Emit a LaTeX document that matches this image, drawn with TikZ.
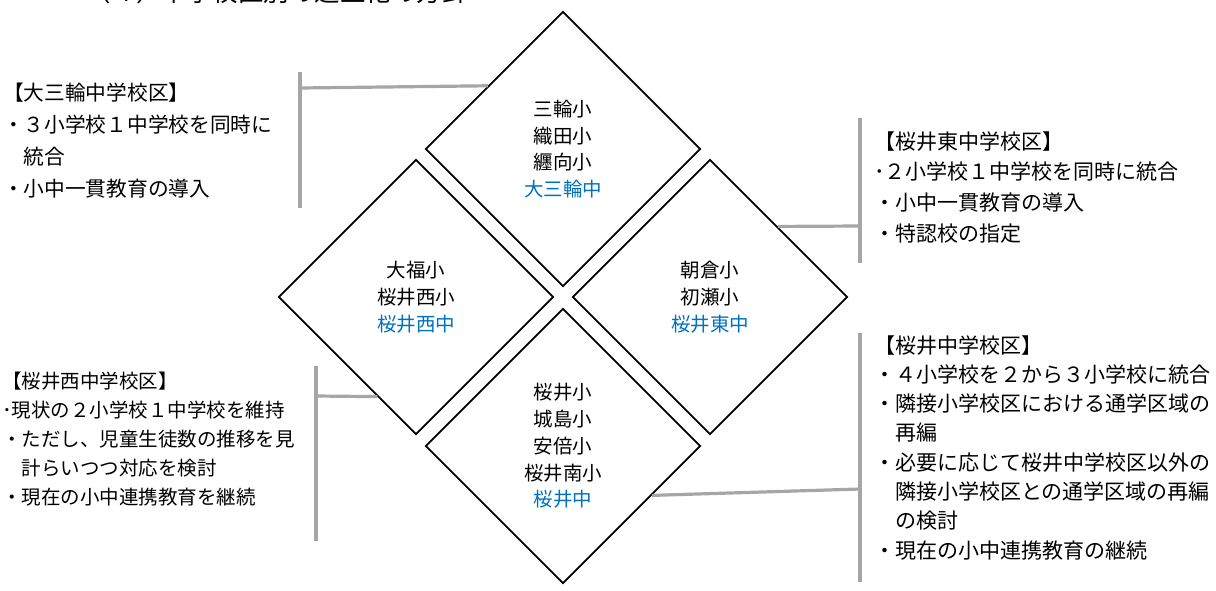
\documentclass[tikz,border=0pt]{standalone}
\usepackage{fontspec}
\setmainfont{Noto Sans CJK JP}
\usetikzlibrary{shapes.geometric,calc}
\definecolor{jblue}{RGB}{0,112,192}
\definecolor{bargray}{RGB}{166,166,166}
\newcommand{\mylines}[2]{\vtop{\baselineskip=#1pt\lineskiplimit=-100pt\lineskip=0pt #2}}
\begin{document}
\begin{tikzpicture}[x=1pt,y=-1pt,
  dia/.style={shape=diamond, aspect=1, draw=black, line width=1.7pt,
    minimum width=275pt, minimum height=275pt, inner sep=0pt, align=center,
    font=\fontsize{19.5}{26.8}\selectfont},
  blk/.style={anchor=base west, inner sep=0pt},
  bar/.style={draw=bargray, line width=3.2pt}]
\useasboundingbox (0,0) rectangle (1216,590);
\begin{scope}
\clip (0,0) rectangle (1216,590);
\node[anchor=base west, inner sep=0pt, font=\fontsize{25.5}{25.5}\selectfont] (title) at (85,1) {（４）中学校区別の適正化の方針};
\end{scope}
% diamonds
\node[dia] (omiwa) at (563,149) {三輪小\\織田小\\纒向小\\\textcolor{jblue}{大三輪中}};
\node[dia] (nishi) at (416,297) {大福小\\桜井西小\\\textcolor{jblue}{桜井西中}};
\node[dia] (higashi) at (710,297) {朝倉小\\初瀬小\\\textcolor{jblue}{桜井東中}};
\node[dia] (sakurai) at (563,446) {桜井小\\城島小\\安倍小\\桜井南小\\\textcolor{jblue}{桜井中}};
% text blocks
\node[blk, font=\fontsize{20.7}{32}\selectfont] (tOmiwa) at (3,100)
  {\mylines{32}{\hbox{【大三輪中学校区】}\hbox{・３小学校１中学校を同時に}\hbox{　統合}\hbox{・小中一貫教育の導入}}};
\node[blk, font=\fontsize{21}{30.7}\selectfont] (tHigashi) at (874,149)
  {\mylines{30.7}{\hbox{【桜井東中学校区】}\hbox{･２小学校１中学校を同時に統合}\hbox{・小中一貫教育の導入}\hbox{・特認校の指定}}};
\node[blk, font=\fontsize{19.5}{29}\selectfont] (tNishi) at (2,388.4)
  {\mylines{29}{\hbox{【桜井西中学校区】}\hbox{･現状の２小学校１中学校を維持}\hbox{・ただし、児童生徒数の推移を見}\hbox{　計らいつつ対応を検討}\hbox{・現在の小中連携教育を継続}}};
\node[blk, font=\fontsize{21}{29.3}\selectfont] (tSakurai) at (874,353)
  {\mylines{29.3}{\hbox{【桜井中学校区】}\hbox{・４小学校を２から３小学校に統合}\hbox{・隣接小学校区における通学区域の}\hbox{　再編}\hbox{・必要に応じて桜井中学校区以外の}\hbox{　隣接小学校区との通学区域の再編}\hbox{　の検討}\hbox{・現在の小中連携教育の継続}}};
% brackets and connectors
\coordinate (b1t) at (300,72);
\coordinate (b1b) at (300,208);
\coordinate (b1m) at (300,88);
\draw[bar] (b1t) -- (b1b);
\draw[bar] (b1m) -- ($(omiwa.west)!0.457!(omiwa.north)$);
\coordinate (b2t) at (860,118);
\coordinate (b2b) at (860,263);
\coordinate (b2m) at (860,226);
\draw[bar] (b2t) -- (b2b);
\draw[bar] ($(higashi.north)!0.49!(higashi.east)$) -- (b2m);
\coordinate (b3t) at (316,366);
\coordinate (b3b) at (316,541);
\coordinate (b3m) at (316,396);
\draw[bar] (b3t) -- (b3b);
\draw[bar] (b3m) -- ($(nishi.west)!0.72!(nishi.south)$);
\coordinate (b4t) at (860,333);
\coordinate (b4b) at (860,582);
\coordinate (b4m) at (860,489);
\draw[bar] (b4t) -- (b4b);
\draw[bar] ($(sakurai.east)!0.357!(sakurai.south)$) -- (b4m);
\end{tikzpicture}
\end{document}
